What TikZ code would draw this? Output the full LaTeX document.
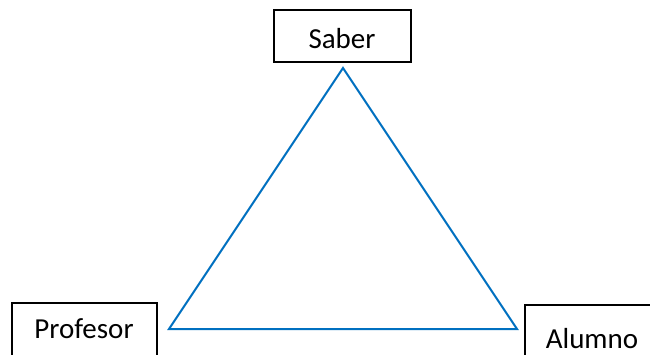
\documentclass[tikz,border=0pt]{standalone}
\usepackage{fontspec}
\setmainfont{Carlito}
\begin{document}
\begin{tikzpicture}[x=1pt,y=-1pt,
  box/.style={draw=black,line width=1.5pt,inner sep=0pt,outer sep=0pt},
  lbl/.style={anchor=base,inner sep=0pt,font=\fontsize{29}{34}\selectfont},
  edge/.style={draw={rgb,255:red,0;green,112;blue,192},line width=2pt,line join=miter}]
  \useasboundingbox (0,0) rectangle (650,354);
  \clip (0,0) rectangle (650,354);
  % boxes
  \node[box,minimum width=137pt,minimum height=52pt] (saberbox) at (342.5,36) {};
  \node[box,minimum width=145pt,minimum height=54pt] (profbox) at (84.5,330) {};
  \node[box,minimum width=140pt,minimum height=54pt] (alumbox) at (595,332) {};
  % labels
  \node[lbl] (saber) at (342,48) {Saber};
  \node[lbl] (prof) at (84,338) {Profesor};
  \node[lbl] (alum) at (592,348) {Alumno};
  % triangle
  \coordinate (top) at (343,68);
  \coordinate (left) at (169,329);
  \coordinate (right) at (517,329);
  \draw[edge] (top) -- (left) -- (right) -- cycle;
\end{tikzpicture}
\end{document}
